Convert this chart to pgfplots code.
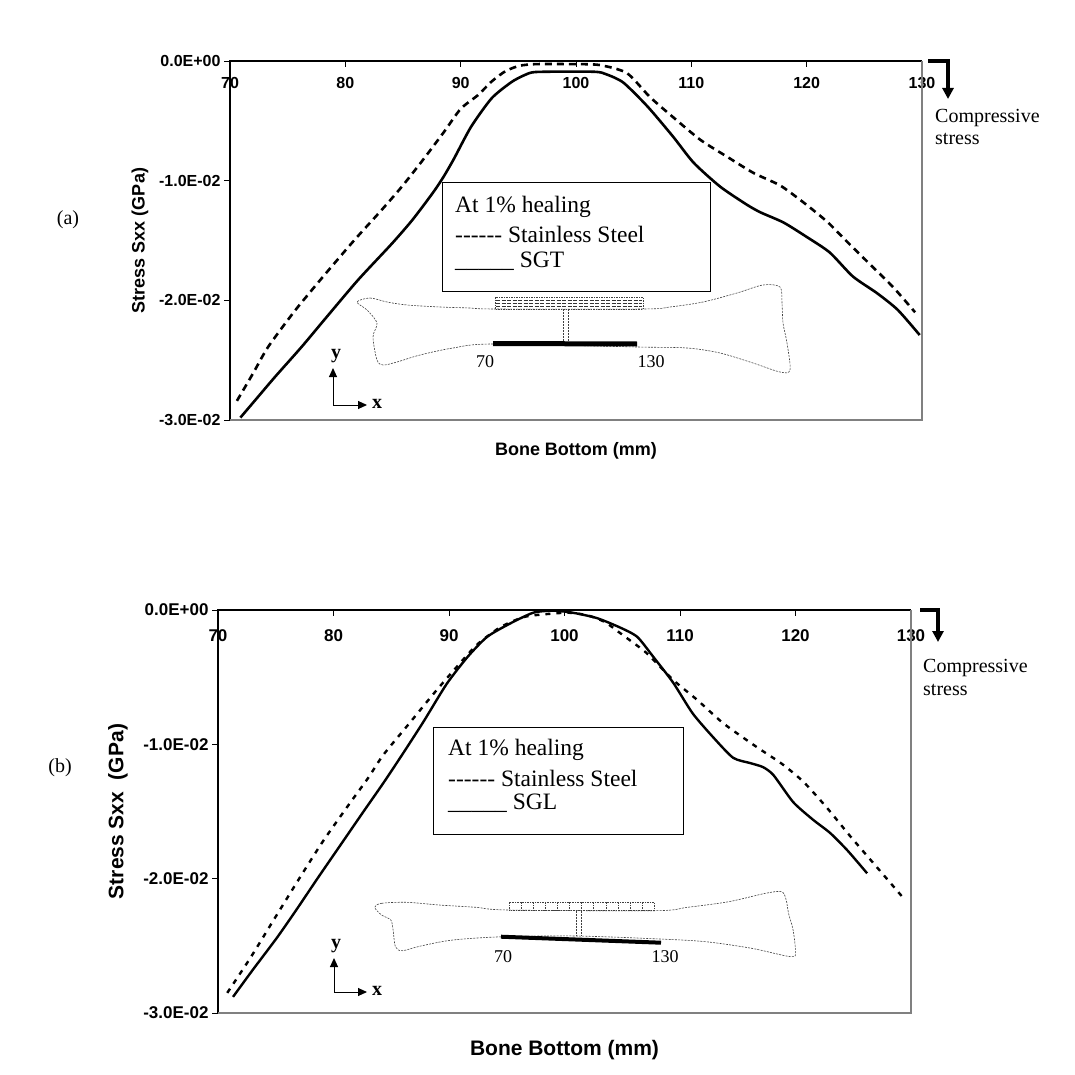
\documentclass[border=0pt]{standalone}
\usepackage{pgfplots}
\pgfplotsset{compat=1.18}
\usepackage{fontspec}
\setmainfont{Liberation Serif}
\newfontfamily\arial{Liberation Sans}
\usetikzlibrary{arrows.meta}

\pgfplotsset{
 panel/.style={
  scale only axis, axis line style={draw=none},
  xmin=70, xmax=130, ymin=-0.03, ymax=0,
  scaled y ticks=false, scaled x ticks=false,
  xtick={70,80,90,100,110,120,130}, xticklabels={70,80,90,100,110,120,130},
  ytick={-0.03,-0.02,-0.01,0}, yticklabels={-3.0E-02,-2.0E-02,-1.0E-02,0.0E+00},
  xtick pos=right, xticklabel pos=right, ytick pos=left, yticklabel pos=left,
  xtick align=inside, ytick align=outside,
  major tick length=6pt,
  tick style={black, line width=1pt},
  clip=false,
 }
}

\begin{document}
\begin{tikzpicture}
\useasboundingbox (0pt,0pt) rectangle (1074pt,-1075pt);

% ---------------- panel (a)
\begin{axis}[panel,
  at={(230pt,-420pt)}, anchor=south west, width=692pt, height=359pt,
  xticklabel style={anchor=center, yshift=-22pt, font=\arial\bfseries\fontsize{16}{16}\selectfont},
  yticklabel style={font=\arial\bfseries\fontsize{16}{16}\selectfont},
  xlabel={Bone Bottom (mm)},
  xlabel style={at={(axis description cs:0.5,-0.0864)}, anchor=center, font=\arial\bfseries\fontsize{18}{18}\selectfont},
  ylabel={Stress Sxx (GPa)},
  ylabel style={at={(axis description cs:-0.130,0.5)}, anchor=center, font=\arial\bfseries\fontsize{18}{18}\selectfont},
]
\addplot[black, line width=2.6pt, dash pattern=on 7pt off 5pt, smooth, tension=0.4] coordinates {
(70.6,-0.0284)(72.0,-0.0261)(73.3,-0.0239)(75.6,-0.0209)(78.0,-0.0181)(80.3,-0.0155)
(81.4,-0.0143)(83.1,-0.0125)(84.9,-0.0105)(86.7,-0.0083)(88.5,-0.0060)(90.0,-0.0040)
(91.5,-0.00285)(92.7,-0.0017)(93.9,-0.00084)(95.1,-0.0004)(96.5,-0.00026)(99.5,-0.00026)
(102.0,-0.00033)(104.4,-0.0010)(106.4,-0.0030)(108.4,-0.00468)(110.8,-0.0066)(113.1,-0.0080)
(115.4,-0.00936)(117.7,-0.0104)(119.7,-0.0118)(121.8,-0.01345)(123.5,-0.0151)(125.5,-0.0170)
(127.5,-0.0189)(129.4,-0.0210)};
\addplot[black, line width=2.6pt, smooth, tension=0.4] coordinates {
(70.9,-0.0298)(72.4,-0.0281)(73.9,-0.0264)(76.2,-0.0239)(78.2,-0.0216)(81.1,-0.0183)
(84.0,-0.0153)(85.8,-0.0133)(87.6,-0.0110)(88.5,-0.0097)(89.4,-0.0082)(90.9,-0.0055)
(92.7,-0.0031)(94.5,-0.0017)(96.0,-0.0010)(97.2,-0.0009)(101.6,-0.0009)(102.6,-0.0011)
(104.1,-0.0018)(106.2,-0.0038)(108.4,-0.0063)(110.2,-0.0085)(112.5,-0.0105)(114.8,-0.0120)
(116.0,-0.01265)(118.0,-0.0135)(120.0,-0.0147)(122.0,-0.0160)(124.0,-0.0180)(126.1,-0.0194)
(127.9,-0.0208)(129.8,-0.0229)};
\draw[black, line width=1.2pt] (rel axis cs:0,0)--(rel axis cs:0,1)--(rel axis cs:1,1);
\draw[gray, line width=1.8pt] (rel axis cs:1,1)--(rel axis cs:1,0)--(rel axis cs:0,0);
\end{axis}

% ---------------- panel (b)
\begin{axis}[panel,
  at={(218pt,-1013pt)}, anchor=south west, width=693pt, height=403pt,
  xticklabel style={anchor=center, yshift=-26pt, font=\arial\bfseries\fontsize{17}{17}\selectfont},
  yticklabel style={font=\arial\bfseries\fontsize{17}{17}\selectfont},
  xlabel={Bone Bottom (mm)},
  xlabel style={at={(axis description cs:0.5,-0.0918)}, anchor=center, font=\arial\bfseries\fontsize{21}{21}\selectfont},
  ylabel={Stress Sxx\ \ (GPa)},
  ylabel style={at={(axis description cs:-0.1443,0.5)}, anchor=center, font=\arial\bfseries\fontsize{21}{21}\selectfont},
]
\addplot[black, line width=2.4pt, dash pattern=on 5pt off 6pt, smooth, tension=0.4] coordinates {
(70.8,-0.0285)(72.8,-0.0259)(74.8,-0.0231)(77.1,-0.0199)(79.1,-0.0172)(81.4,-0.0144)
(83.0,-0.0125)(84.3,-0.0108)(86.6,-0.0084)(88.6,-0.0063)(90.4,-0.0045)(92.4,-0.0026)
(94.4,-0.0013)(96.2,-0.0006)(97.3,-0.0004)(100.2,-0.0002)(102.0,-0.0004)(103.5,-0.0009)
(105.1,-0.0019)(107.1,-0.0032)(109.4,-0.0052)(111.5,-0.0067)(113.7,-0.0084)(115.8,-0.0097)
(116.9,-0.01035)(118.9,-0.0115)(120.7,-0.0128)(122.7,-0.0147)(124.7,-0.0168)(126.5,-0.0186)
(127.6,-0.0197)(129.3,-0.0214)};
\addplot[black, line width=2.4pt, smooth, tension=0.4] coordinates {
(71.3,-0.0288)(73.0,-0.0268)(75.1,-0.0244)(76.8,-0.0223)(78.6,-0.0200)(80.6,-0.0175)
(82.6,-0.0150)(84.3,-0.0129)(86.0,-0.0107)(87.8,-0.0083)(89.8,-0.0055)(91.6,-0.0035)
(93.3,-0.0020)(95.3,-0.0010)(97.3,-0.0002)(99.0,-0.00005)(100.7,-0.0002)(102.8,-0.0006)
(104.8,-0.0013)(106.3,-0.0020)(107.7,-0.0035)(109.4,-0.0054)(111.1,-0.0077)(112.9,-0.0095)
(114.6,-0.0110)(116.1,-0.0114)(117.2,-0.0117)(118.1,-0.0123)(119.8,-0.0143)(121.5,-0.0156)
(123.0,-0.0166)(124.5,-0.0179)(126.2,-0.0196)};
\draw[black, line width=1.2pt] (rel axis cs:0,0)--(rel axis cs:0,1)--(rel axis cs:1,1);
\draw[gray, line width=1.8pt] (rel axis cs:1,1)--(rel axis cs:1,0)--(rel axis cs:0,0);
\end{axis}

% ---------------- annotations (1pt = 1px, y downward)
\begin{scope}[x=1pt,y=-1pt]
\node[font=\fontsize{20}{20}\selectfont] at (68,220) {(a)};
\node[font=\fontsize{20}{20}\selectfont] at (60,768) {(b)};

% compressive arrows
\draw[line width=3.5pt, -{Triangle[length=11pt,width=11pt]}] (928,61) -- (948,61) -- (948,99);
\node[anchor=west, align=left, inner sep=0pt, font=\fontsize{20}{22}\selectfont] at (935,127) {Compressive\\stress};
\draw[line width=3.5pt, -{Triangle[length=11pt,width=11pt]}] (920,610) -- (938,610) -- (938,642);
\node[anchor=west, align=left, inner sep=0pt, font=\fontsize{20}{23}\selectfont] at (923,677) {Compressive\\stress};

% legend boxes
\draw[line width=1pt] (442,183) rectangle (710,291);
\begin{scope}[every node/.style={anchor=west, inner sep=0pt, font=\fontsize{23.5}{23.5}\selectfont}]
\node at (455,207) {At 1\% healing};
\node at (455,234) {{-}{-}{-}{-}{-}{-} Stainless Steel};
\node at (455,261) {\_\_\_\_\_ SGT};
\end{scope}
\draw[line width=1pt] (433,727) rectangle (683,834);
\begin{scope}[every node/.style={anchor=west, inner sep=0pt, font=\fontsize{23.5}{23.5}\selectfont}]
\node at (448,750) {At 1\% healing};
\node at (448,778) {{-}{-}{-}{-}{-}{-} Stainless Steel};
\node at (448,803) {\_\_\_\_\_ SGL};
\end{scope}

% bone (a)
\draw[black!75, line width=0.6pt, dash pattern=on 2pt off 1.2pt] plot[smooth cycle, tension=0.5] coordinates {
(357,302)(370,298)(387,302)(407,305)(440,307)(470,308)(495,309)(643,309)(670,307)(703,302)
(737,293)(763,285)(780,287)(782,303)(783,323)(787,343)(790,370)(780,372)(753,363)(720,353)
(687,348)(637,347)(493,344)(453,348)(420,355)(397,362)(383,365)(377,360)(373,337)(377,323)
(367,310)};
\draw[black!75, line width=0.5pt, dash pattern=on 1.5pt off 1pt] (495,297) rectangle (643,309);
\foreach \yy in {300,303,306}
  \draw[black!80, line width=0.6pt, dash pattern=on 4pt off 1.5pt] (496,\yy) -- (642,\yy);
\draw[black!75, line width=0.5pt, dash pattern=on 2pt off 1pt] (563,309)--(563,342) (568,309)--(568,342);
\draw[line width=5pt] (493,343.5)--(637,344);
\node[font=\fontsize{18}{18}\selectfont] at (485,362) {70};
\node[font=\fontsize{18}{18}\selectfont] at (651,362) {130};
\draw[line width=1pt, -{Triangle[length=9pt,width=8pt]}] (333,405)--(333,368);
\draw[line width=1pt, -{Triangle[length=9pt,width=8pt]}] (333,405)--(367,405);
\node[font=\bfseries\fontsize{20}{20}\selectfont] at (336,356) {y};
\node[font=\bfseries\fontsize{20}{20}\selectfont] at (377,404) {x};

% bone (b)
\draw[black!75, line width=0.6pt, dash pattern=on 2pt off 1.2pt] plot[smooth cycle, tension=0.5] coordinates {
(374.7,907.3)(381.6,903.3)(406.9,902.3)(439.1,905)(475.9,907.3)(508,910)(655.2,910.7)(687.4,907.3)
(728.7,901.7)(765.5,893.3)(781.6,891.7)(786.2,900)(788.5,913.3)(793.1,930)(795.4,951.7)(790.8,956.7)
(751.7,948.3)(705.7,941.7)(659.8,939)(577,936)(503.4,936.7)(452.9,940)(420.7,946)(402.3,950.7)
(395.4,946.7)(393.1,930)(390.8,920)(381.6,915)};
\draw[black!75, line width=0.5pt, dash pattern=on 1.5pt off 1pt] (509,902.3) rectangle (654.3,910.7);
\foreach \i in {1,...,11}
  \draw[black!75, line width=0.5pt, dash pattern=on 1.5pt off 1pt] ({509+\i*12.1},902.3)--({509+\i*12.1},910.7);
\draw[black!75, line width=0.5pt, dash pattern=on 2pt off 1pt] (576,910.7)--(576,936) (581.6,910.7)--(581.6,936);
\draw[line width=4pt] (501,936.7)--(661,942.7);
\node[font=\fontsize{18}{18}\selectfont] at (503,957) {70};
\node[font=\fontsize{18}{18}\selectfont] at (665,957) {130};
\draw[line width=1pt, -{Triangle[length=9pt,width=8pt]}] (334,992)--(334,958);
\draw[line width=1pt, -{Triangle[length=9pt,width=8pt]}] (334,992)--(367,992);
\node[font=\bfseries\fontsize{20}{20}\selectfont] at (336,946) {y};
\node[font=\bfseries\fontsize{20}{20}\selectfont] at (377,991) {x};
\end{scope}
\end{tikzpicture}
\end{document}
